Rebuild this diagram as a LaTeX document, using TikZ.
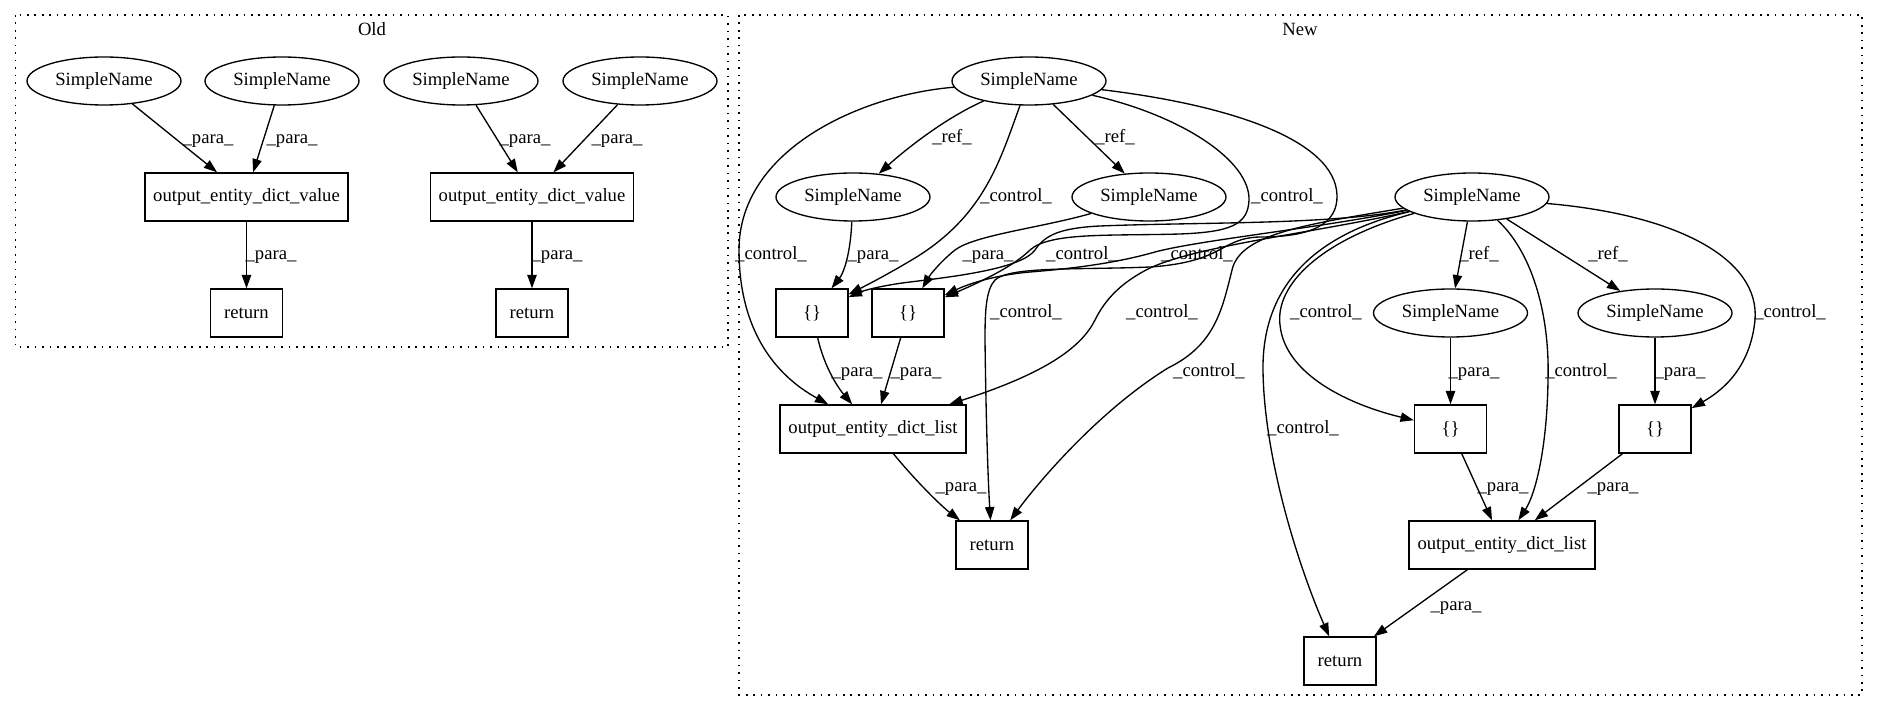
\documentclass[tikz,border=0pt]{standalone}
\usepackage{fontspec}
\setmainfont{Liberation Serif}
\usetikzlibrary{shapes.geometric,arrows.meta}
\begin{document}
\begin{tikzpicture}[x=0.75pt,y=-0.75pt,
  every node/.style={font=\fontsize{14pt}{16pt}\selectfont},
  sn/.style={ellipse,draw,line width=1pt,minimum width=115.5pt,minimum height=36pt,inner sep=0pt},
  bx/.style={rectangle,draw,line width=1pt,minimum height=36pt,inner sep=0pt},
  lab/.style={anchor=base,inner sep=0pt},
  ar/.style={line width=1pt,-{Triangle[length=10pt,width=7pt]}},
  clu/.style={line width=1pt,dash pattern=on 1.2pt off 4.4pt}]
\useasboundingbox (0,0) rectangle (1877,712);
% clusters
\draw[clu] (15.7,15) rectangle (728,347);
\draw[clu] (739,15) rectangle (1862,695);
\node[lab] (oldt) at (372,36) {Old};
\node[lab] (newt) at (1300,36) {New};

% ---------- Old ----------
\node[sn] (o1) at (104,81) {SimpleName};
\node[sn] (o2) at (282,81) {SimpleName};
\node[sn] (o3) at (461,81) {SimpleName};
\node[sn] (o4) at (640,81) {SimpleName};
\node[bx,minimum width=152.25pt] (ov1) at (246.5,197) {output\_entity\_dict\_value};
\node[bx,minimum width=152.25pt] (ov2) at (532,197) {output\_entity\_dict\_value};
\node[bx,minimum width=54pt] (or1) at (246.5,313) {return};
\node[bx,minimum width=54pt] (or2) at (532,313) {return};

\draw[ar] (o1) -- (ov1.140);
\draw[ar] (o2) -- (ov1.75);
\draw[ar] (ov1) -- (or1);
\draw[ar] (o3) -- (ov2.120);
\draw[ar] (o4) -- (ov2.49);
\draw[ar] (ov2) -- (or2);

\node[lab] (lo1) at (208,144) {\_para\_};
\node[lab] (lo2) at (292,144) {\_para\_};
\node[lab] (lo3) at (271,260) {\_para\_};
\node[lab] (lo4) at (525,144) {\_para\_};
\node[lab] (lo5) at (617,144) {\_para\_};
\node[lab] (lo6) at (557,260) {\_para\_};

% ---------- New ----------
\node[sn] (S1) at (1029,81) {SimpleName};
\node[sn] (ref1) at (853,197) {SimpleName};
\node[sn] (ref2) at (1149,197) {SimpleName};
\node[sn] (S2) at (1472,197) {SimpleName};
\node[bx,minimum width=54pt] (B1) at (812,313) {\{\}};
\node[bx,minimum width=54pt] (B2) at (908,313) {\{\}};
\node[sn] (ref3) at (1450.5,313) {SimpleName};
\node[sn] (ref4) at (1655,313) {SimpleName};
\node[bx,minimum width=139.5pt] (L1) at (873,429) {output\_entity\_dict\_list};
\node[bx,minimum width=54pt] (B3) at (1450.5,429) {\{\}};
\node[bx,minimum width=54pt] (B4) at (1655,429) {\{\}};
\node[bx,minimum width=54pt] (R1) at (992,545) {return};
\node[bx,minimum width=139.5pt] (L2) at (1502,545) {output\_entity\_dict\_list};
\node[bx,minimum width=54pt] (R2) at (1340,661) {return};

% S1 edges
\draw[ar] (S1) .. controls (945,118) and (905,150) .. (ref1);
\draw[ar] (S1) -- (ref2);
\draw[ar] (S1) .. controls (1000,160) and (985,215) .. (915,258) .. controls (885,276) and (865,286) .. (B1);
\draw[ar] (S1) .. controls (860,95) and (739,150) .. (739,250) .. controls (739,330) and (775,375) .. (L1);
\draw[ar] (S1) .. controls (1180,115) and (1250,160) .. (1249,200) .. controls (1248,225) and (1230,232) .. (1180,234) .. controls (1110,236) and (1050,232) .. (1030,250) .. controls (1015,265) and (985,280) .. (B2);
\draw[ar] (S1) .. controls (1230,105) and (1335,140) .. (1337,195) .. controls (1338,225) and (1310,237) .. (1260,237) .. controls (1220,238) and (1225,262) .. (1150,267) .. controls (1080,270) and (1010,266) .. (995,280) .. controls (986,290) and (985,310) .. (985,340) .. controls (986,420) and (988,480) .. (R1);

% S2 edges into left group
\draw[ar] (S2) .. controls (1330,225) and (1200,222) .. (1100,226) .. controls (1060,228) and (1045,235) .. (1035,250) .. controls (1022,268) and (960,276) .. (910,282) .. controls (885,285) and (865,290) .. (B1);
\draw[ar] (S2) .. controls (1320,228) and (1200,240) .. (1155,252) .. controls (1120,262) and (1080,268) .. (1030,272) .. controls (995,275) and (968,284) .. (B2);
\draw[ar] (S2) .. controls (1320,232) and (1200,245) .. (1150,268) .. controls (1120,283) and (1105,300) .. (1095,320) .. controls (1080,350) and (1040,375) .. (L1);
\draw[ar] (S2) .. controls (1300,225) and (1240,235) .. (1232,270) .. controls (1222,310) and (1215,345) .. (1168,368) .. controls (1100,410) and (1040,480) .. (R1);

% S2 edges into right group
\draw[ar] (S2) -- (ref3);
\draw[ar] (S2) -- (ref4);
\draw[ar] (S2) .. controls (1320,240) and (1275,285) .. (1280,325) .. controls (1285,375) and (1350,405) .. (B3);
\draw[ar] (S2) .. controls (1310,235) and (1262,290) .. (1263,370) .. controls (1264,460) and (1300,570) .. (R2);
\draw[ar] (S2) .. controls (1530,250) and (1550,310) .. (1548,380) .. controls (1547,450) and (1535,495) .. (L2);
\draw[ar] (S2) .. controls (1680,215) and (1760,260) .. (1755,320) .. controls (1750,370) and (1720,392) .. (B4);

% para edges
\draw[ar] (ref1) .. controls (850,260) and (842,275) .. (B1);
\draw[ar] (ref2) .. controls (1040,228) and (975,235) .. (955,250) .. controls (940,262) and (930,275) .. (B2);
\draw[ar] (B1) .. controls (825,370) and (840,390) .. (L1);
\draw[ar] (B2) -- (L1.72);
\draw[ar] (L1) .. controls (915,480) and (940,505) .. (R1);
\draw[ar] (ref3) -- (B3);
\draw[ar] (ref4) -- (B4);
\draw[ar] (B3) -- (L2.112);
\draw[ar] (B4) -- (L2.37);
\draw[ar] (L2) -- (R2.36);

% labels
\node[lab] (r1) at (952,143) {\_ref\_};
\node[lab] (r2) at (1115,143) {\_ref\_};
\node[lab] (r3) at (1479,260) {\_ref\_};
\node[lab] (r4) at (1608,260) {\_ref\_};
\node[lab] (c1) at (771,260) {\_control\_};
\node[lab] (c2) at (1016,202) {\_control\_};
\node[lab] (c3) at (1287,202) {\_control\_};
\node[lab] (c4) at (1082,260) {\_control\_};
\node[lab] (c5) at (1197,260) {\_control\_};
\node[lab] (c6) at (1026,318) {\_control\_};
\node[lab] (c7) at (1162,318) {\_control\_};
\node[lab] (c8) at (1326,318) {\_control\_};
\node[lab] (c9) at (1790,318) {\_control\_};
\node[lab] (c10) at (1209,377) {\_control\_};
\node[lab] (c11) at (1581,377) {\_control\_};
\node[lab] (c12) at (1303,434) {\_control\_};
\node[lab] (p1) at (873,260) {\_para\_};
\node[lab] (p2) at (988,260) {\_para\_};
\node[lab] (p3) at (857,377) {\_para\_};
\node[lab] (p4) at (916,377) {\_para\_};
\node[lab] (p5) at (961,492) {\_para\_};
\node[lab] (p6) at (1474,377) {\_para\_};
\node[lab] (p7) at (1680,377) {\_para\_};
\node[lab] (p8) at (1503,492) {\_para\_};
\node[lab] (p9) at (1613,492) {\_para\_};
\node[lab] (p10) at (1456,610) {\_para\_};
\end{tikzpicture}
\end{document}
